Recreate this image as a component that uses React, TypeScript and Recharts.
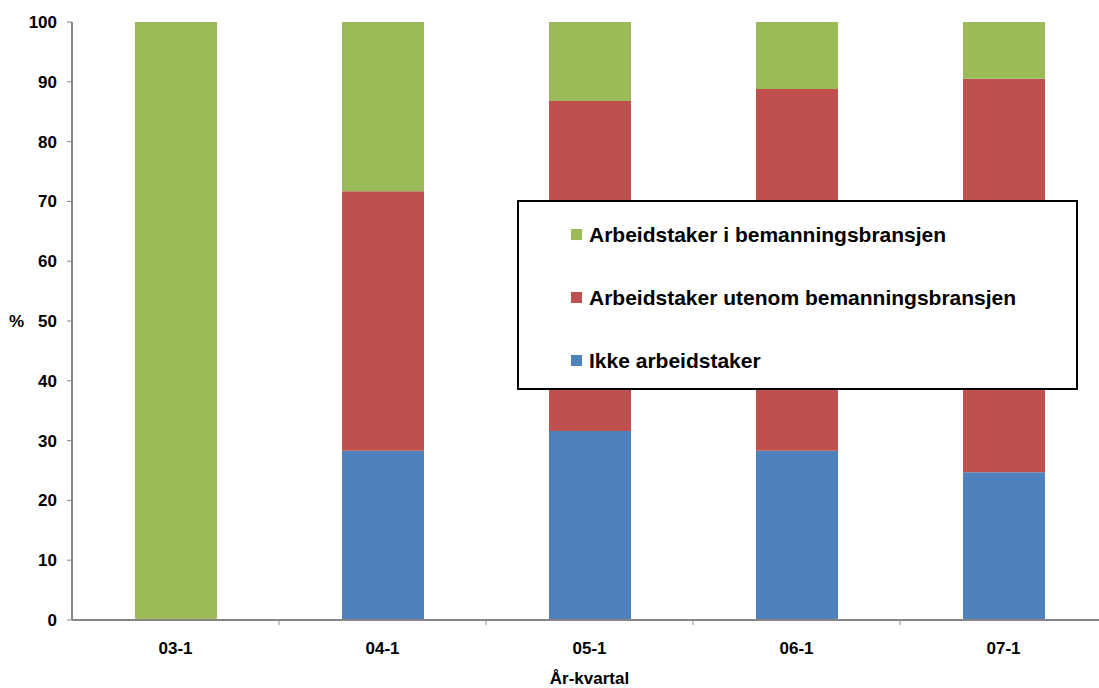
import { BarChart, Bar, XAxis, YAxis, Legend } from "recharts";

const quarters = ["03-1", "04-1", "05-1", "06-1", "07-1"];
const ikkeArbeidstaker = [0, 28.3, 31.6, 28.3, 24.7];
const utenomBemanning = [0, 43.4, 55.2, 60.5, 65.8];
const iBemanning = [100, 28.3, 13.2, 11.2, 9.5];
const yTicks = [0, 10, 20, 30, 40, 50, 60, 70, 80, 90, 100];

const series = [
  { key: "ikke", name: "Ikke arbeidstaker", color: "#4F81BD" },
  { key: "utenom", name: "Arbeidstaker utenom bemanningsbransjen", color: "#C0504D" },
  { key: "bemanning", name: "Arbeidstaker i bemanningsbransjen", color: "#9BBB59" },
];

const chartData = quarters.map((q, i) => ({
  name: q,
  ikke: ikkeArbeidstaker[i],
  utenom: utenomBemanning[i],
  bemanning: iBemanning[i],
}));

const W = 1099;
const H = 688;
// plot area runs a little past the right edge of the picture, like the original
const chartW = 1107;
const plotLeft = 72;
const band = (chartW - plotLeft) / quarters.length;
const font = "'Liberation Sans', Arial, sans-serif";
const axisColor = "#868686";

const XTick = (props: any) => {
  const { x, y, payload, index } = props;
  return (
    <g>
      {index < quarters.length - 1 && (
        <line x1={x + band / 2} x2={x + band / 2} y1={y} y2={y + 5} stroke={axisColor} />
      )}
      <text x={x} y={y + 34} textAnchor="middle" fontFamily={font} fontWeight="bold" fontSize={17} fill="#000">
        {payload.value}
      </text>
    </g>
  );
};

const LegendBox = () => (
  <div
    style={{
      width: 561,
      height: 190,
      boxSizing: "border-box",
      border: "2px solid #000",
      background: "#fff",
      fontFamily: font,
      fontWeight: "bold",
      fontSize: 21,
      color: "#000",
      paddingLeft: 52,
      paddingTop: 1,
    }}
  >
    {[...series].reverse().map((s) => (
      <div key={s.key} style={{ display: "flex", alignItems: "center", height: 63 }}>
        <span style={{ width: 11, height: 11, background: s.color, marginRight: 7, display: "inline-block" }} />
        <span>{s.name}</span>
      </div>
    ))}
  </div>
);

export default function App() {
  return (
    <div style={{ position: "absolute", left: 0, top: 0, width: W, height: H, overflow: "hidden", background: "#fff" }}>
      <BarChart
        width={chartW}
        height={H}
        data={chartData}
        margin={{ top: 22, right: 0, left: 0, bottom: 0 }}
        barSize={82}
      >
        <XAxis
          dataKey="name"
          height={68}
          tickSize={0}
          tickMargin={0}
          tick={<XTick />}
          axisLine={{ stroke: axisColor, strokeWidth: 2 }}
          interval={0}
          label={{
            value: "År-kvartal",
            position: "insideBottom",
            offset: 4,
            fontFamily: font,
            fontWeight: "bold",
            fontSize: 17,
            fill: "#000",
          }}
        />
        <YAxis
          width={plotLeft}
          domain={[0, 100]}
          ticks={yTicks}
          interval={0}
          tickSize={5}
          tickMargin={10}
          axisLine={{ stroke: axisColor, strokeWidth: 2 }}
          tickLine={{ stroke: axisColor }}
          tick={{ fontFamily: font, fontWeight: "bold", fontSize: 17, fill: "#000" }}
          label={{
            value: "%",
            position: "insideLeft",
            offset: 9,
            fontFamily: font,
            fontWeight: "bold",
            fontSize: 17,
            fill: "#000",
          }}
        />
        {series.map((s) => (
          <Bar key={s.key} dataKey={s.key} name={s.name} stackId="a" fill={s.color} isAnimationActive={false} />
        ))}
        <Legend
          layout="horizontal"
          verticalAlign="middle"
          align="center"
          content={<LegendBox />}
          wrapperStyle={{ position: "absolute", left: 517, top: 200, width: 561, height: 190 }}
        />
      </BarChart>
    </div>
  );
}
